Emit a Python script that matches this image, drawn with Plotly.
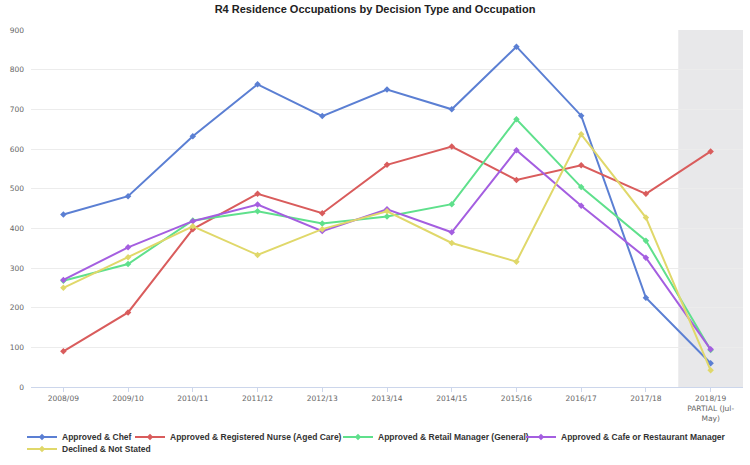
import plotly.graph_objs as go

# Financial years on the x axis
years = ['2008/09', '2009/10', '2010/11', '2011/12', '2012/13', '2013/14',
         '2014/15', '2015/16', '2016/17', '2017/18', '2018/19']
year_labels = years[:-1] + ['2018/19<br>PARTIAL (Jul-<br>May)']

chef = [435, 481, 632, 763, 683, 750, 700, 858, 684, 225, 60]
nurse = [90, 188, 398, 487, 438, 560, 606, 522, 559, 487, 594]
retail = [268, 310, 420, 443, 412, 430, 461, 675, 504, 369, 93]
cafe = [270, 352, 418, 460, 393, 448, 390, 597, 457, 326, 95]
declined = [250, 327, 405, 333, 398, 443, 363, 316, 637, 427, 42]

series_names = ['Approved & Chef', 'Approved & Registered Nurse (Aged Care)',
                'Approved & Retail Manager (General)',
                'Approved & Cafe or Restaurant Manager', 'Declined & Not Stated']

colors = ['#5b7fd3', '#d95c5c', '#5fe08c', '#a45ee0', '#e0d86a']

# legend entry placement (container px): left edge, row centre
legend_pos = [(22, 437), (130, 437), (338, 437), (521, 437), (22, 449)]

W, H = 750, 465

fig = go.Figure()

# grey band over the partial year
fig.add_shape(type='rect', xref='x', yref='paper', x0=9.5, x1=10.5, y0=0, y1=1,
              fillcolor='#e8e8ea', line=dict(width=0), layer='below')

legend_ids = ['legend', 'legend2', 'legend3', 'legend4', 'legend5']
for name, vals, col, lid in zip(series_names, [chef, nurse, retail, cafe, declined],
                                colors, legend_ids):
    fig.add_trace(go.Scatter(
        x=years, y=vals, name=name, mode='lines+markers', legend=lid,
        line=dict(color=col, width=2),
        marker=dict(color=col, size=5, symbol='diamond')
    ))

legend_font = dict(family='Liberation Sans, Arial', size=8.5, color='#333', weight='bold')
for lid, (lx, ly) in zip(legend_ids, legend_pos):
    fig.update_layout({lid: dict(
        xref='container', yref='container', x=lx / W, y=1 - ly / H,
        xanchor='left', yanchor='middle', bgcolor='rgba(0,0,0,0)',
        font=legend_font, itemwidth=30)})

fig.update_layout(
    width=W, height=H,
    title=dict(text='<b>R4 Residence Occupations by Decision Type and Occupation</b>',
               x=0.5, xanchor='center', yref='container', y=1 - 5 / H, yanchor='top',
               font=dict(family='Liberation Sans, Arial', size=11, color='#222')),
    font=dict(family='DejaVu Sans', size=8, color='#666'),
    margin=dict(l=31, r=7, t=30, b=78, autoexpand=False),
    paper_bgcolor='white', plot_bgcolor='white',
    showlegend=True,
    xaxis=dict(type='category', tickmode='array', tickvals=years, ticktext=year_labels,
               showgrid=False, showline=True, linecolor='#ccd6eb', linewidth=1,
               ticks='outside', tickcolor='#ccd6eb', ticklen=4,
               range=[-0.5, 10.5], tickfont=dict(size=7.5, color='#666')),
    yaxis=dict(range=[0, 900], dtick=100, showgrid=True, gridcolor='#ececec',
               zeroline=False, tickfont=dict(size=7.5, color='#666'), ticklabelstandoff=6),
)

# page body margin would shift the figure by 8px
fig.write_html('out.html', config={'displayModeBar': False},
               post_script="document.body.style.margin='0';")
